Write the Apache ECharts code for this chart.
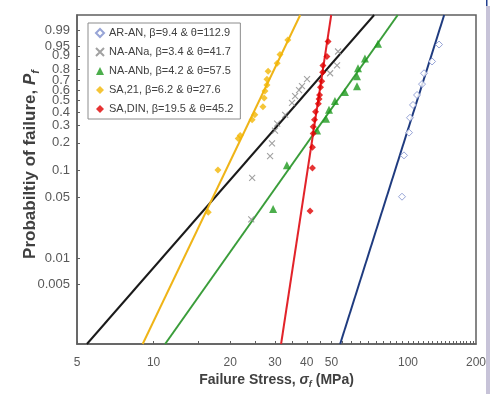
<!DOCTYPE html>
<html><head><meta charset="utf-8">
<script src="https://cdn.jsdelivr.net/npm/echarts@6/dist/echarts.min.js"></script>
<style>html,body{margin:0;padding:0;background:#fff}#c{width:493px;height:394px}</style>
</head><body><div id="c"></div>
<script>
// ---- data (stress in MPa, probability of failure) ----
const seriesNames = [
  'AR-AN, β=9.4 & θ=112.9',
  'NA-ANa, β=3.4 & θ=41.7',
  'NA-ANb, β=4.2 & θ=57.5',
  'SA,21, β=6.2 & θ=27.6',
  'SA,DIN, β=19.5 & θ=45.2'
];
const arAnStress = [94.7, 96.4, 100.9, 101.8, 104.6, 108.5, 113.5, 115.6, 124.3, 132.4];
const arAnProb   = [0.051, 0.147, 0.254, 0.354, 0.460, 0.553, 0.660, 0.764, 0.862, 0.956];
const naAnaStress = [24.2, 24.4, 28.7, 29.2, 30.0, 30.6, 32.9, 35.0, 36.0, 37.3, 38.3, 40.1, 49.4, 52.6, 53.1];
const naAnaProb   = [0.028, 0.083, 0.144, 0.197, 0.266, 0.311, 0.377, 0.478, 0.543, 0.601, 0.640, 0.708, 0.764, 0.832, 0.925];
const naAnbStress = [29.5, 33.4, 43.9, 47.6, 48.9, 51.6, 56.5, 63.0, 63.0, 63.6, 67.7, 76.2];
const naAnbProb   = [0.037, 0.115, 0.266, 0.347, 0.418, 0.496, 0.581, 0.640, 0.736, 0.808, 0.883, 0.959];
const sa21Stress = [16.4, 17.9, 21.5, 21.9, 24.4, 25.0, 26.9, 27.2, 27.4, 27.9, 27.9, 28.2, 30.6, 31.4, 33.7];
const sa21Prob   = [0.034, 0.102, 0.221, 0.237, 0.339, 0.377, 0.443, 0.524, 0.591, 0.650, 0.708, 0.782, 0.848, 0.908, 0.971];
const saDinStress = [41.2, 42.1, 42.1, 42.4, 42.4, 42.9, 43.3, 44.4, 44.7, 44.9, 45.3, 45.8, 46.2, 46.3, 48.0, 48.5];
const saDinProb   = [0.035, 0.107, 0.179, 0.249, 0.291, 0.339, 0.401, 0.470, 0.515, 0.553, 0.630, 0.688, 0.773, 0.832, 0.896, 0.966];
// fitted Weibull lines: [stress, probability] end points
const arAnFit  = [[54.1, 0.001], [138.7, 0.999]];
const naAnaFit = [[5.47, 0.001], [73.6, 0.999]];
const naAnbFit = [[11.1, 0.001], [91.1, 0.999]];
const sa21Fit  = [[9.06, 0.001], [37.7, 0.999]];
const saDinFit = [[31.7, 0.001], [49.9, 0.999]];
// axes
const xMin = 5, xMax = 185;
const yMin = 0.001, yMax = 0.999;
const xTickValues = [5,10,15,20,25,30,35,40,45,50,55,60,65,70,75,80,85,90,95,100,105,110,115,120,125,130,135,140,145,150,155,160,165,170,175,180];
const xLabelPositions = [5, 10, 20, 30, 40, 50, 100, 185];
const xLabelTexts = ['5', '10', '20', '30', '40', '50', '100', '200'];
const yTickValues = [0.005, 0.01, 0.05, 0.1, 0.2, 0.3, 0.4, 0.5, 0.6, 0.7, 0.8, 0.9, 0.95, 0.99];
const yTickLabels = ['0.005', '0.01', '0.05', '0.1', '0.2', '0.3', '0.4', '0.5', '0.6', '0.7', '0.8', '0.9', '0.95', '0.99'];

// ---- Weibull transforms ----
const tx = s => Math.log(s);
const ty = p => Math.log(-Math.log(1 - p));
const pts = (xs, ps) => xs.map((s, i) => [tx(s), ty(ps[i])]);
const fit = arr => arr.map(d => [tx(d[0]), ty(d[1])]);
const nearestLabel = (v, poss, texts, f) => {
  let best = 0, bd = Infinity;
  poss.forEach((p, i) => { const d = Math.abs(f(p) - v); if (d < bd) { bd = d; best = i; } });
  return texts[best];
};

const FONT = 'Liberation Sans';
const crossPath = 'path://M0,0L10,10M10,0L0,10';
const titleRich = size => ({
  b: {fontFamily: FONT, fontSize: size, fontWeight: 'bold', color: '#404040', lineHeight: size + 4},
  i: {fontFamily: FONT, fontSize: size, fontWeight: 'bold', fontStyle: 'italic', color: '#404040', lineHeight: size + 4},
  s: {fontFamily: FONT, fontSize: Math.round(size * 0.65), fontWeight: 'bold', fontStyle: 'italic', color: '#404040', verticalAlign: 'bottom', lineHeight: size}
});

const chart = echarts.init(document.getElementById('c'), null, {renderer: 'canvas'});
const lineSeries = (data, color) => ({
  type: 'line', data: fit(data), symbol: 'none', silent: true, z: 2,
  lineStyle: {color: color, width: 2}, legendHoverLink: false
});
chart.setOption({
  animation: false,
  backgroundColor: '#fff',
  grid: {left: 77, right: 17, top: 15, bottom: 46, show: true, borderColor: '#5f5f5f', borderWidth: 1.5, backgroundColor: 'transparent'},
  xAxis: {
    type: 'value', min: tx(xMin), max: tx(xMax),
    name: '{b|Failure Stress, }{i|σ}{s|f}{b| (MPa)}',
    nameLocation: 'middle', nameGap: 27, nameMoveOverlap: false,
    nameTextStyle: {rich: titleRich(14)},
    axisLine: {show: true, onZero: false, lineStyle: {color: '#5f5f5f', width: 1.5}},
    axisTick: {show: true, inside: true, length: 3, customValues: xTickValues.map(tx), lineStyle: {color: '#5f5f5f', width: 1}},
    axisLabel: {
      customValues: xLabelPositions.map(tx), margin: 13,
      fontFamily: FONT, fontSize: 12, color: '#595959', lineHeight: 12,
      formatter: v => nearestLabel(v, xLabelPositions, xLabelTexts, tx)
    },
    splitLine: {show: false}
  },
  yAxis: {
    type: 'value', min: ty(yMin), max: ty(yMax),
    name: '{b|Probabiltiy of failure, }{i|P}{s|f}',
    nameLocation: 'middle', nameGap: 36, nameRotate: 90, nameMoveOverlap: false,
    nameTextStyle: {padding: [0, 0, 0, 30], rich: titleRich(17)},
    axisLine: {show: true, onZero: false, lineStyle: {color: '#5f5f5f', width: 1.5}},
    axisTick: {show: true, inside: true, length: 3, customValues: yTickValues.map(ty), lineStyle: {color: '#5f5f5f', width: 1}},
    axisLabel: {
      customValues: yTickValues.map(ty), margin: 7,
      fontFamily: FONT, fontSize: 13, color: '#595959', lineHeight: 12,
      formatter: v => nearestLabel(v, yTickValues, yTickLabels, ty)
    },
    splitLine: {show: false}
  },
  legend: {
    orient: 'vertical', left: 88, top: 23, padding: [3, 7, 3, 7], itemGap: 5,
    itemWidth: 8, itemHeight: 8, selectedMode: false,
    borderColor: '#8c8c8c', borderWidth: 1, backgroundColor: '#fff',
    textStyle: {fontFamily: FONT, fontSize: 11, color: '#404040', lineHeight: 14},
    data: seriesNames
  },
  graphic: [
    {type: 'rect', left: 486, top: 6, shape: {width: 4, height: 388}, style: {fill: '#c7c3d8'}, silent: true},
    {type: 'rect', left: 486, top: 0, shape: {width: 1.5, height: 6}, style: {fill: '#23408f'}, silent: true}
  ],
  series: [
    lineSeries(arAnFit, '#1f3b7f'),
    lineSeries(naAnaFit, '#1a1a1a'),
    lineSeries(naAnbFit, '#3a9d3a'),
    lineSeries(sa21Fit, '#efb417'),
    lineSeries(saDinFit, '#e2232a'),
    {name: seriesNames[0], type: 'scatter', z: 3, data: pts(arAnStress, arAnProb), symbol: 'diamond', symbolSize: 7,
      itemStyle: {color: '#ffffff', borderColor: '#7d8dcc', borderWidth: 1}},
    {name: seriesNames[1], type: 'scatter', z: 3, data: pts(naAnaStress, naAnaProb), symbol: crossPath, symbolSize: 6,
      itemStyle: {color: '#8a8a8a', borderColor: '#8a8a8a', borderWidth: 1.1}},
    {name: seriesNames[2], type: 'scatter', z: 3, data: pts(naAnbStress, naAnbProb), symbol: 'triangle', symbolSize: 8,
      itemStyle: {color: '#1f9a1f'}},
    {name: seriesNames[3], type: 'scatter', z: 3, data: pts(sa21Stress, sa21Prob), symbol: 'diamond', symbolSize: 7,
      itemStyle: {color: '#f2b705'}},
    {name: seriesNames[4], type: 'scatter', z: 3, data: pts(saDinStress, saDinProb), symbol: 'diamond', symbolSize: 7,
      itemStyle: {color: '#e00000'}}
  ]
});
</script></body></html>
